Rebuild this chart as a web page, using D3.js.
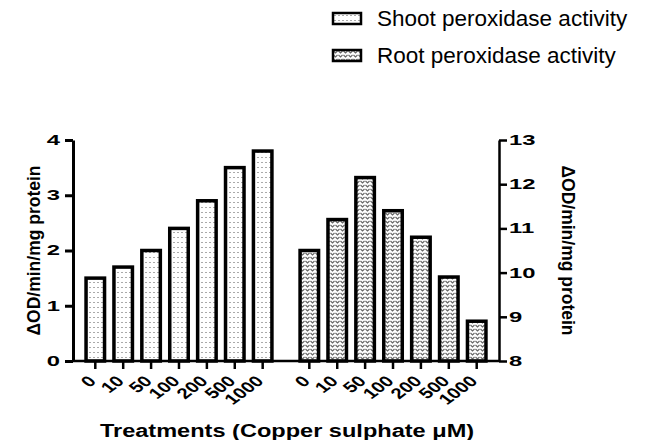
<!DOCTYPE html>
<html>
<head>
<meta charset="utf-8">
<style>
  body { margin: 0; background: #fff; }
  text { font-family: "Liberation Sans", Arial, sans-serif; fill: #000; }
</style>
</head>
<body>
<div class="chart"></div>

<script src="https://d3js.org/d3.v7.min.js"></script>

<script>
// values
const treatments = ["0", "10", "50", "100", "200", "500", "1000"];
const shootActivity = [1.5, 1.7, 2.0, 2.4, 2.9, 3.5, 3.8];
const rootActivity = [10.5, 11.2, 12.15, 11.4, 10.8, 9.9, 8.9];
const seriesNames = ["Shoot peroxidase activity", "Root peroxidase activity"];
const leftTicks = [0, 1, 2, 3, 4];
const rightTicks = [8, 9, 10, 11, 12, 13];
const yLabel = "\u0394OD/min/mg protein";
const xTitle = "Treatments (Copper sulphate \u03bcM)";

const width = 645, height = 440;
const plotLeft = 73, plotRight = 499, plotTop = 140, plotBottom = 361;

const svg = d3.select(".chart").append("svg")
    .attr("width", width)
    .attr("height", height);

// fill patterns
const defs = svg.append("defs");
const dots = defs.append("pattern")
    .attr("id", "dots").attr("patternUnits", "userSpaceOnUse")
    .attr("width", 4).attr("height", 5);
dots.append("rect").attr("width", 4).attr("height", 5).attr("fill", "#fff");
dots.append("rect").attr("x", 1.5).attr("y", 2).attr("width", 1).attr("height", 1).attr("fill", "#555");

const waves = defs.append("pattern")
    .attr("id", "waves").attr("patternUnits", "userSpaceOnUse")
    .attr("width", 5).attr("height", 4);
waves.append("rect").attr("width", 5).attr("height", 4).attr("fill", "#fff");
waves.append("path").attr("d", "M0.5,1 L2.5,3 L4.5,1")
    .attr("fill", "none").attr("stroke", "#666").attr("stroke-width", 1.1);

const fills = ["url(#dots)", "url(#waves)"];

// scales
const xGroup = d3.scaleBand().domain(seriesNames).range([plotLeft, plotRight])
    .paddingInner(0.0876).paddingOuter(0.039);
const xInner = d3.scalePoint().domain(treatments).range([0, xGroup.bandwidth()]).padding(0.5);
const yLeft = d3.scaleLinear().domain([0, 4]).range([plotBottom, plotTop]);
const yRight = d3.scaleLinear().domain([8, 13]).range([plotBottom, plotTop]);

const barW = 18.5;
const data = [
  {name: seriesNames[0], values: shootActivity, y: yLeft, base: 0},
  {name: seriesNames[1], values: rootActivity, y: yRight, base: 8}
];

// bars
data.forEach((s, i) => {
  svg.append("g")
    .selectAll("rect")
    .data(s.values)
    .enter().append("rect")
      .attr("x", (d, j) => xGroup(s.name) + xInner(treatments[j]) - barW / 2)
      .attr("y", d => s.y(d))
      .attr("width", barW)
      .attr("height", d => s.y(s.base) - s.y(d))
      .attr("fill", fills[i])
      .attr("stroke", "#000")
      .attr("stroke-width", 3.5);
});

// x baseline with ticks and rotated labels
svg.append("line")
    .attr("x1", plotLeft).attr("x2", plotRight)
    .attr("y1", plotBottom).attr("y2", plotBottom)
    .attr("stroke", "#000").attr("stroke-width", 2.5);

data.forEach(s => {
  const g = svg.append("g").attr("transform", `translate(${xGroup(s.name)},0)`);
  g.selectAll("line")
    .data(treatments)
    .enter().append("line")
      .attr("x1", d => xInner(d)).attr("x2", d => xInner(d))
      .attr("y1", plotBottom).attr("y2", plotBottom + 8)
      .attr("stroke", "#000").attr("stroke-width", 2.5);
  g.selectAll("text")
    .data(treatments)
    .enter().append("text")
      .attr("transform", d => `translate(${xInner(d) + 2},${plotBottom + 21}) scale(1.35,1) rotate(-45)`)
      .attr("text-anchor", "end")
      .style("font-size", "15px")
      .style("font-weight", "bold")
      .text(d => d);
});

// y axes
const axL = svg.append("g")
    .attr("transform", `translate(${plotLeft},0)`)
    .call(d3.axisLeft(yLeft).tickValues(leftTicks).tickFormat(d3.format("d"))
      .tickSize(8).tickSizeOuter(0));
axL.selectAll("path, line").attr("stroke", "#000").attr("stroke-width", 3);
axL.selectAll("text")
    .attr("x", 0)
    .attr("transform", "translate(-13,0) scale(1.7,1)")
    .style("font-size", "14px").style("font-weight", "bold")
    .style("font-family", "'Liberation Sans', Arial, sans-serif");

const axR = svg.append("g")
    .attr("transform", `translate(${plotRight},0)`)
    .call(d3.axisRight(yRight).tickValues(rightTicks).tickFormat(d3.format("d"))
      .tickSize(8).tickSizeOuter(0));
axR.selectAll("path, line").attr("stroke", "#000").attr("stroke-width", 2.5);
axR.selectAll("text")
    .attr("x", 0)
    .attr("transform", "translate(10,0) scale(1.7,1)")
    .style("font-size", "14px").style("font-weight", "bold")
    .style("font-family", "'Liberation Sans', Arial, sans-serif");

// axis titles
svg.append("text")
    .attr("transform", `translate(40,${(plotTop + plotBottom) / 2}) rotate(-90)`)
    .attr("text-anchor", "middle")
    .style("font-size", "17.5px").style("font-weight", "bold")
    .text(yLabel);

svg.append("text")
    .attr("transform", `translate(561.5,${(plotTop + plotBottom) / 2}) rotate(90)`)
    .attr("text-anchor", "middle")
    .style("font-size", "17.5px").style("font-weight", "bold")
    .text(yLabel);

svg.append("text")
    .attr("transform", "translate(287,437) scale(1.24,1)")
    .attr("text-anchor", "middle")
    .style("font-size", "19px").style("font-weight", "bold")
    .text(xTitle);

// legend
const legend = svg.append("g")
    .selectAll("g")
    .data(seriesNames)
    .enter().append("g")
      .attr("transform", (d, i) => `translate(333,${13 + i * 37})`);
legend.append("rect")
    .attr("width", 28).attr("height", 11)
    .attr("fill", (d, i) => fills[i])
    .attr("stroke", "#000").attr("stroke-width", 2.5);
legend.append("text")
    .attr("x", 44).attr("y", 13)
    .style("font-size", "22.5px")
    .text(d => d);
</script>
</body>
</html>
